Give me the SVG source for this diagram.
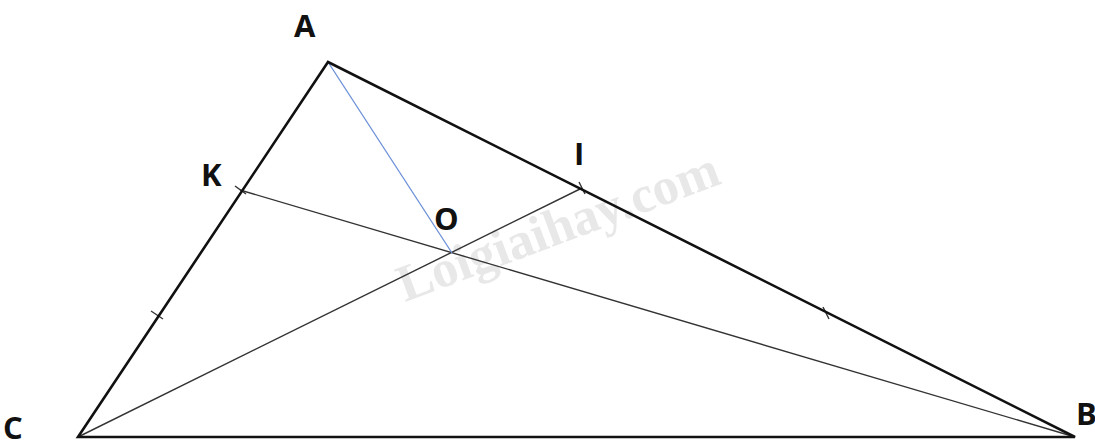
<svg xmlns="http://www.w3.org/2000/svg" width="1095" height="446" viewBox="0 0 1095 446">
<style>
.tri{stroke:#111;stroke-width:2.6;fill:none;stroke-linejoin:miter}
.in{stroke:#333;stroke-width:1.4;fill:none}
.blue{stroke:#6a8fd8;stroke-width:1.3;fill:none}
.tick{stroke:#333;stroke-width:1.4}
.lbl{font-family:"Open Sans","Liberation Sans",sans-serif;font-weight:bold;font-size:31px;fill:#111}
.wm{font-family:"Liberation Serif",serif;font-weight:bold;font-size:52px;fill:#e8e8e8}
</style>
<rect width="1095" height="446" fill="#fff"/>
<text class="wm" x="405" y="302" transform="rotate(-20.5 405 302)">Loigiaihay.com</text>
<g id="connectors">
<path class="in" d="M1075,437 L240,190"/>
<path class="in" d="M78,437 L582,188"/>
<path class="blue" d="M328,62 L452,253"/>
<line class="tick" x1="235" y1="186" x2="246" y2="194"/>
<line class="tick" x1="151" y1="311" x2="163" y2="319"/>
<line class="tick" x1="579" y1="182" x2="585" y2="194"/>
<line class="tick" x1="823" y1="307" x2="829" y2="319"/>
</g>
<g id="triangle">
<path class="tri" d="M328,62 L1075,437 L78,437 Z"/>
</g>
<g id="A"><text class="lbl" x="294" y="37">A</text></g>
<g id="K"><text class="lbl" x="201" y="186">K</text></g>
<g id="I"><text class="lbl" x="574" y="165">I</text></g>
<g id="O"><text class="lbl" x="434" y="230">O</text></g>
<g id="B"><text class="lbl" x="1076" y="425">B</text></g>
<g id="C"><text class="lbl" x="3" y="439">C</text></g>
</svg>
